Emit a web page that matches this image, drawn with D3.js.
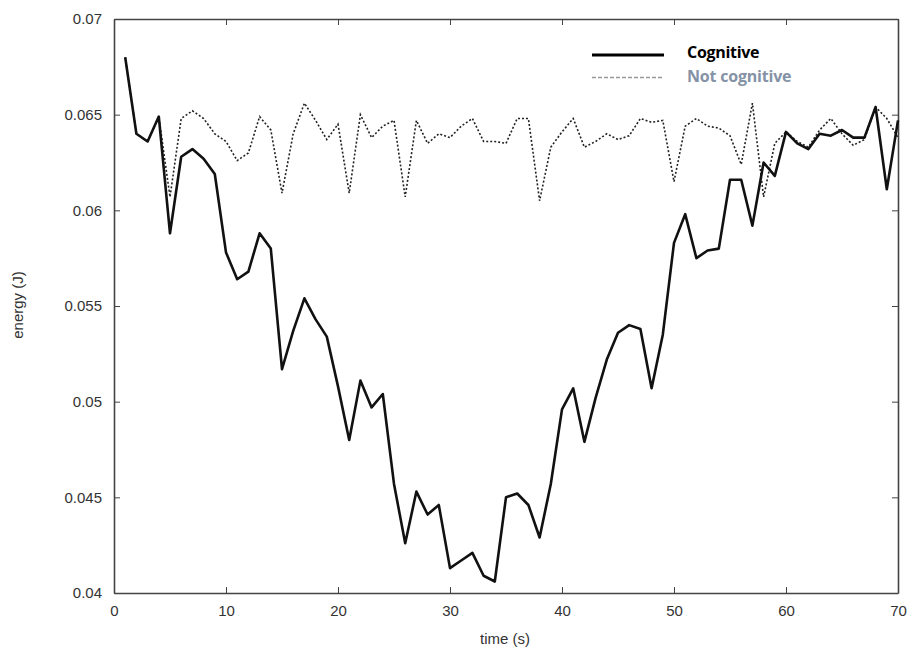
<!DOCTYPE html>
<html>
<head>
<meta charset="utf-8">
<script src="https://cdn.jsdelivr.net/npm/d3@7"></script>
<style>
  body { margin: 0; background: #fff; }
  svg { display: block; font-family: "Liberation Sans", Arial, sans-serif; }
  .axis path, .axis line { stroke: #444; }
  .axis text { fill: #333; font-size: 15px; }
</style>
</head>
<body>
<div id="chart"></div>
<script>
// time (s) for each sample
var times = d3.range(1, 71);

// energy per second
var cognitive = [
  0.0680, 0.0640, 0.0636, 0.0649, 0.0588, 0.0628, 0.0632, 0.0627, 0.0619, 0.0578,
  0.0564, 0.0568, 0.0588, 0.0580, 0.0517, 0.0537, 0.0554, 0.0543, 0.0534, 0.0508,
  0.0480, 0.0511, 0.0497, 0.0504, 0.0457, 0.0426, 0.0453, 0.0441, 0.0446, 0.0413,
  0.0417, 0.0421, 0.0409, 0.0406, 0.0450, 0.0452, 0.0446, 0.0429, 0.0457, 0.0496,
  0.0507, 0.0479, 0.0502, 0.0522, 0.0536, 0.0540, 0.0538, 0.0507, 0.0535, 0.0583,
  0.0598, 0.0575, 0.0579, 0.0580, 0.0616, 0.0616, 0.0592, 0.0625, 0.0618, 0.0641,
  0.0635, 0.0632, 0.0640, 0.0639, 0.0642, 0.0638, 0.0638, 0.0654, 0.0611, 0.0647
];

var not_cognitive = [
  0.0680, 0.0640, 0.0636, 0.0649, 0.0607, 0.0648, 0.0652, 0.0648, 0.0640, 0.0636,
  0.0626, 0.0630, 0.0649, 0.0642, 0.0609, 0.0640, 0.0656, 0.0647, 0.0637, 0.0645,
  0.0609, 0.0650, 0.0638, 0.0644, 0.0647, 0.0607, 0.0647, 0.0635, 0.0640, 0.0638,
  0.0644, 0.0648, 0.0636, 0.0636, 0.0635, 0.0648, 0.0648, 0.0605, 0.0633, 0.0641,
  0.0648, 0.0633, 0.0636, 0.0640, 0.0637, 0.0639, 0.0648, 0.0646, 0.0647, 0.0615,
  0.0644, 0.0648, 0.0644, 0.0643, 0.0639, 0.0624, 0.0656, 0.0607, 0.0635, 0.0641,
  0.0636, 0.0633, 0.0642, 0.0648, 0.0640, 0.0634, 0.0637, 0.0654, 0.0648, 0.0638
];

var x_ticks = [0, 10, 20, 30, 40, 50, 60, 70];
var y_ticks = [0.04, 0.045, 0.05, 0.055, 0.06, 0.065, 0.07];

var width  = 910;
var height = 651;
var margin = {top: 19, right: 12, bottom: 58, left: 114};

var svg = d3.select('#chart')
    .append('svg')
    .attr('width', width)
    .attr('height', height);

var x_scale = d3.scaleLinear()
    .domain([0, 70])
    .range([margin.left, width - margin.right]);

var y_scale = d3.scaleLinear()
    .domain([0.04, 0.07])
    .range([height - margin.bottom, margin.top]);

var tick_format = function(d) { return d3.format('')(+d.toFixed(3)); };

// bottom axis, inward ticks
svg.append('g')
    .attr('class', 'axis')
    .attr('transform', 'translate(0,' + (height - margin.bottom) + ')')
    .call(d3.axisBottom(x_scale).tickValues(x_ticks).tickSizeInner(-6).tickSizeOuter(0).tickPadding(12))
    .call(function(g) { g.select('.domain').attr('stroke-width', 1.6); });

// top axis, ticks only
svg.append('g')
    .attr('class', 'axis')
    .attr('transform', 'translate(0,' + margin.top + ')')
    .call(d3.axisTop(x_scale).tickValues(x_ticks).tickSizeInner(-6).tickSizeOuter(0).tickFormat(''))
    .call(function(g) { g.select('.domain').attr('stroke-width', 1.6); });

// left axis
svg.append('g')
    .attr('class', 'axis')
    .attr('transform', 'translate(' + margin.left + ',0)')
    .call(d3.axisLeft(y_scale).tickValues(y_ticks).tickSizeInner(-6).tickSizeOuter(0).tickPadding(12).tickFormat(tick_format))
    .call(function(g) { g.select('.domain').attr('stroke-width', 1.6); });

// right axis, ticks only
svg.append('g')
    .attr('class', 'axis')
    .attr('transform', 'translate(' + (width - margin.right) + ',0)')
    .call(d3.axisRight(y_scale).tickValues(y_ticks).tickSizeInner(-6).tickSizeOuter(0).tickFormat(''))
    .call(function(g) { g.select('.domain').attr('stroke-width', 1.6); });

var line_for = function(values) {
    return d3.line()
        .x(function(d, i) { return x_scale(times[i]); })
        .y(function(d) { return y_scale(d); })(values);
};

svg.append('path')
    .attr('d', line_for(not_cognitive))
    .attr('fill', 'none')
    .attr('stroke', '#222')
    .attr('stroke-width', 1.6)
    .attr('stroke-dasharray', '2,2');

svg.append('path')
    .attr('d', line_for(cognitive))
    .attr('fill', 'none')
    .attr('stroke', '#111')
    .attr('stroke-width', 2.6)
    .attr('stroke-linejoin', 'round');

// Legend
svg.append('line')
    .attr('x1', 592).attr('x2', 664)
    .attr('y1', 55).attr('y2', 55)
    .attr('stroke', '#000')
    .attr('stroke-width', 3);

svg.append('line')
    .attr('x1', 592).attr('x2', 664)
    .attr('y1', 77.5).attr('y2', 77.5)
    .attr('stroke', '#999')
    .attr('stroke-width', 1.6)
    .attr('stroke-dasharray', '4,2');

svg.append('text')
    .attr('x', 687).attr('y', 58)
    .attr('font-family', '"Open Sans", sans-serif')
    .attr('font-weight', 'bold')
    .attr('font-size', '16px')
    .attr('letter-spacing', '-0.3')
    .attr('fill', '#000')
    .text('Cognitive');

svg.append('text')
    .attr('x', 687).attr('y', 81.5)
    .attr('font-family', '"Open Sans", sans-serif')
    .attr('font-weight', 'bold')
    .attr('font-size', '16px')
    .attr('letter-spacing', '-0.2')
    .attr('fill', '#8592a6')
    .text('Not cognitive');

// Axis labels
svg.append('text')
    .attr('x', 505).attr('y', 644)
    .attr('text-anchor', 'middle')
    .attr('font-size', '15px')
    .attr('fill', '#333')
    .text('time (s)');

svg.append('text')
    .attr('transform', 'rotate(-90)')
    .attr('x', -305).attr('y', 23)
    .attr('text-anchor', 'middle')
    .attr('font-size', '15px')
    .attr('fill', '#333')
    .text('energy (J)');
</script>
</body>
</html>
